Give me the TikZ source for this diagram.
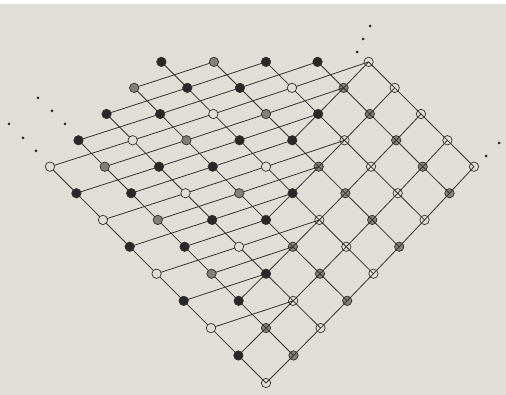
\documentclass[tikz,border=0pt]{standalone}
\pgfdeclarelayer{bg}
\pgfdeclarelayer{back}
\pgfdeclarelayer{front}
\pgfsetlayers{bg,back,main,front}
\definecolor{paper}{RGB}{224,222,215}
\definecolor{ink}{RGB}{50,50,50}
\definecolor{blackfill}{RGB}{40,40,40}
\definecolor{midgray}{RGB}{128,128,122}
\tikzset{
  vtx/.style={circle, draw=ink, line width=0.7pt, minimum size=9.4pt, inner sep=0pt},
  blackv/.style={vtx, fill=blackfill},
  grayv/.style={vtx, fill=midgray},
  openv/.style={vtx, fill=paper},
  edge/.style={draw=ink, line width=0.8pt},
  dotv/.style={circle, fill=blackfill, minimum size=3pt, inner sep=0pt},
}
\begin{document}
\begin{tikzpicture}[x=1pt,y=-1pt]
\begin{pgfonlayer}{bg}
\fill[paper] (0,0) rectangle (506,395);
\fill[white] (0,0) rectangle (506,4);
\end{pgfonlayer}
\useasboundingbox (0,0) rectangle (506,395);
% nodes
\foreach \p in {0,...,8}{
 \foreach \q in {0,...,8}{
  \pgfmathtruncatemacro{\ssum}{\p+\q}
  \ifnum\ssum<13
   \pgfmathsetmacro{\stx}{26.5-0.15*(\ssum-8)}
   \pgfmathsetmacro{\px}{266+\stx*(\p-\q)-0.0625*(\p-\q)*(\p-\q)}
   \pgfmathsetmacro{\py}{383-27.6*\ssum+0.07*\ssum*\ssum}
   \pgfmathtruncatemacro{\isx}{(2*\q<=\p+1)?1:0}
   \pgfmathtruncatemacro{\myodd}{mod(\p,2)}
   \pgfmathtruncatemacro{\blk}{mod(\q+ceil(\p/2),2)}
   \ifnum\p=4 \ifnum\q=8 \def\blk{1}\fi\fi
   \ifnum\isx=1
    \begin{pgfonlayer}{back}
     \ifnum\myodd=1
      \node[grayv] (n-\p-\q) at (\px,\py) {};
     \else
      \node[openv] (n-\p-\q) at (\px,\py) {};
     \fi
    \end{pgfonlayer}
   \else
    \begin{pgfonlayer}{front}
     \ifnum\blk=1
      \node[blackv] (n-\p-\q) at (\px,\py) {};
     \else
      \ifnum\myodd=1
       \node[grayv] (n-\p-\q) at (\px,\py) {};
      \else
       \node[openv] (n-\p-\q) at (\px,\py) {};
      \fi
     \fi
    \end{pgfonlayer}
   \fi
  \fi
 }
}
% edges of constant p
\foreach \p in {0,...,8}{
 \pgfmathtruncatemacro{\qm}{min(8,12-\p)-1}
 \foreach \q in {0,...,\qm}{
  \pgfmathtruncatemacro{\qn}{\q+1}
  \draw[edge] (n-\p-\q.center) -- (n-\p-\qn.center);
 }
}
% edges of constant q
\foreach \q/\lo in {0/0,1/0,2/1,3/3,4/5}{
 \foreach \p in {\lo,...,7}{
  \pgfmathtruncatemacro{\pn}{\p+1}
  \draw[edge] (n-\p-\q.center) -- (n-\pn-\q.center);
 }
}
% shallow edges
\foreach \p/\lo/\hi in {0/2/8,1/3/8,2/3/8,3/4/8,4/4/7,5/5/6,6/5/5}{
 \foreach \q in {\lo,...,\hi}{
  \pgfmathtruncatemacro{\pn}{\p+2}
  \pgfmathtruncatemacro{\qn}{\q-1}
  \draw[edge] (n-\p-\q.center) -- (n-\pn-\qn.center);
 }
}
% ellipsis dots
\node[dotv] (d1) at (38,98) {};
\node[dotv] (d2) at (52,111) {};
\node[dotv] (d3) at (65,124) {};
\node[dotv] (d4) at (9,124) {};
\node[dotv] (d5) at (23,138) {};
\node[dotv] (d6) at (36,151) {};
\node[dotv] (d7) at (357,52) {};
\node[dotv] (d8) at (363,39) {};
\node[dotv] (d9) at (370,26) {};
\node[dotv] (d10) at (486,156) {};
\node[dotv] (d11) at (499,143) {};
\end{tikzpicture}
\end{document}
